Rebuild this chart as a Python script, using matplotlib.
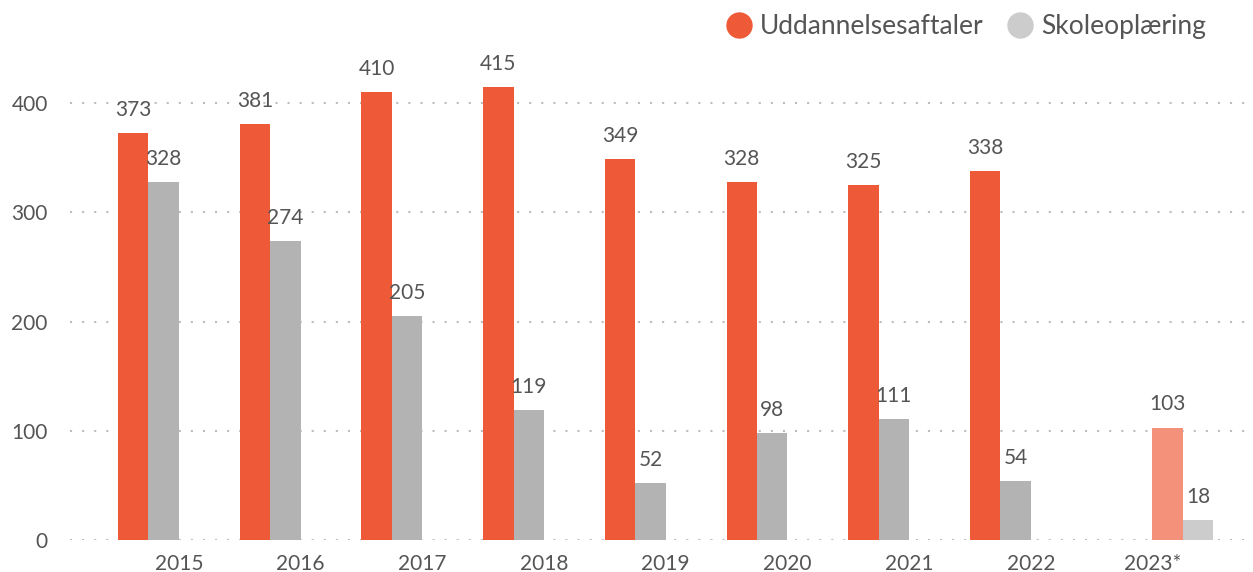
import matplotlib
matplotlib.use("Agg")
import matplotlib.pyplot as plt
from matplotlib.lines import Line2D
import numpy as np

years = ["2015", "2016", "2017", "2018", "2019", "2020", "2021", "2022", "2023*"]
uddannelsesaftaler = [373, 381, 410, 415, 349, 328, 325, 338, None]
skoleoplaering = [328, 274, 205, 119, 52, 98, 111, 54, None]
uddannelsesaftaler_2023 = [None] * 8 + [103]
skoleoplaering_2023 = [None] * 8 + [18]
yticks = [0, 100, 200, 300, 400]

series = [
    (uddannelsesaftaler, "#EE5A37"),
    (skoleoplaering, "#B3B3B3"),
    (uddannelsesaftaler_2023, "#F4917A"),
    (skoleoplaering_2023, "#CCCCCC"),
]

W, H = 1253, 572
fig = plt.figure(figsize=(W / 100, H / 100), dpi=100)
plt.rcParams["font.family"] = ["Lato", "DejaVu Sans"]

left_px, right_px = 70, 1253
bottom_px, top_px = 540, 40
ax = fig.add_axes([left_px / W, (H - bottom_px) / H, (right_px - left_px) / W, (bottom_px - top_px) / H])

band_px = 121.7
x0_px = 118
xmin = -(x0_px - left_px) / band_px
xmax = (right_px - x0_px) / band_px
ax.set_xlim(xmin, xmax)
ax.set_ylim(0, (bottom_px - top_px) / 1.092)

n = len(series)
bw = 1.0 / n
text_color = "#555555"
for k, (vals, col) in enumerate(series):
    for i, v in enumerate(vals):
        if v is None:
            continue
        x = i + k * bw
        ax.bar(x, v, width=bw, align="edge", color=col, zorder=3, linewidth=0)
        ax.text(x + bw / 2, v + 12, str(v), ha="center", va="bottom",
                fontsize=15, color=text_color, zorder=4, clip_on=False)

ax.set_xticks(np.arange(len(years)) + 0.5)
ax.set_xticklabels(years, fontsize=15, color=text_color)
ax.set_yticks(yticks)
ax.set_yticklabels([str(t) for t in yticks], fontsize=15, color=text_color)
ax.tick_params(axis="both", length=0)
ax.tick_params(axis="x", pad=10)
ax.tick_params(axis="y", pad=16)
for lab in ax.get_yticklabels():
    lab.set_horizontalalignment("right")

for t in yticks:
    ax.axhline(t, color="#BDBDBD", linewidth=1.5, linestyle=(0, (1, 4.8)), zorder=1)

for s in ax.spines.values():
    s.set_visible(False)

handles = [
    Line2D([], [], marker="o", linestyle="", markersize=18, color="#EE5A37"),
    Line2D([], [], marker="o", linestyle="", markersize=18, color="#CCCCCC"),
]
leg = fig.legend(handles, ["Uddannelsesaftaler", "Skoleoplæring"], loc="upper right",
                 bbox_to_anchor=(1230 / W, 1.0 + 10 / H), ncol=2, frameon=False,
                 fontsize=19, handletextpad=0.3, columnspacing=0.9, labelcolor=text_color,
                 handlelength=1.0)

fig.savefig("out.png", dpi=100)
